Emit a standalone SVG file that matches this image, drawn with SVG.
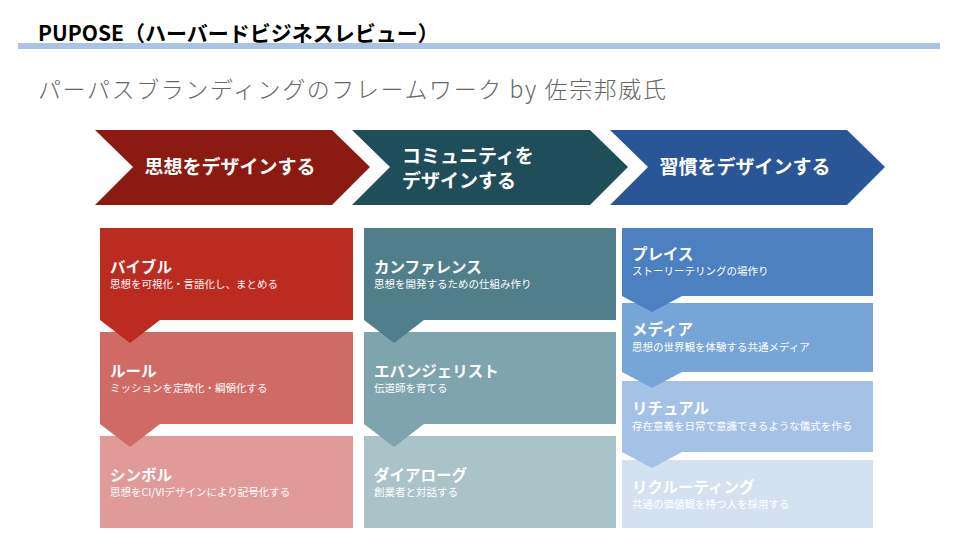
<svg xmlns="http://www.w3.org/2000/svg" width="976" height="552" viewBox="0 0 976 552">
<style>
text{font-family:"Noto Sans CJK JP","Noto Sans",sans-serif}
.h{font-size:15.5px;font-weight:bold;fill:#fff}
.s{font-size:10.5px;fill:#fff}
.c{font-size:19px;font-weight:bold;fill:#fff}
</style>
<rect width="976" height="552" fill="#fff"/>
<text x="38" y="41" font-size="21" font-weight="bold" fill="#000">PUPOSE（ハーバードビジネスレビュー）</text>
<rect x="18" y="43" width="922" height="6" fill="#a9c4e6"/>
<text x="38" y="98" font-size="23" font-weight="300" letter-spacing="1.6" fill="#666">パーパスブランディングのフレームワーク by 佐宗邦威氏</text>
<g id="chevrons">
<g id="c1"><polygon points="95,130 332,130 370,167 332,205 95,205 133,167" fill="#8b1a12"/><text class="c" x="230" y="174" text-anchor="middle">思想をデザインする</text></g>
<g id="c2"><polygon points="352,130 590,130 628,167 590,205 352,205 390,167" fill="#1f4e5a"/><text class="c" x="402" y="163" font-size="18">コミュニティを</text><text class="c" x="402" y="188" font-size="18">デザインする</text></g>
<g id="c3"><polygon points="610,130 847,130 885,167 847,205 610,205 648,167" fill="#2a5597"/><text class="c" x="745" y="174" text-anchor="middle">習慣をデザインする</text></g>
</g>
<g id="col1">
<g id="n1"><rect x="100" y="228" width="253" height="92" fill="#bc2b1f"/><text class="h" x="110" y="273">バイブル</text><text class="s" x="110" y="288">思想を可視化・言語化し、まとめる</text></g>
<g id="n2"><rect x="100" y="332" width="253" height="92" fill="#d06a65"/><text class="h" x="110" y="377">ルール</text><text class="s" x="110" y="392">ミッションを定款化・綱領化する</text></g>
<g id="n3"><rect x="100" y="436" width="253" height="92" fill="#e09a98"/><text class="h" x="110" y="481">シンボル</text><text class="s" x="110" y="496">思想をCI/VIデザインにより記号化する</text></g>
</g>
<g id="col2">
<g id="n4"><rect x="364" y="228" width="252" height="92" fill="#507f8b"/><text class="h" x="374" y="273">カンファレンス</text><text class="s" x="374" y="288">思想を開発するための仕組み作り</text></g>
<g id="n5"><rect x="364" y="332" width="252" height="92" fill="#7ea4ae"/><text class="h" x="374" y="377">エバンジェリスト</text><text class="s" x="374" y="392">伝道師を育てる</text></g>
<g id="n6"><rect x="364" y="436" width="252" height="92" fill="#a9c3c9"/><text class="h" x="374" y="481">ダイアローグ</text><text class="s" x="374" y="496">創業者と対話する</text></g>
</g>
<g id="col3">
<g id="n7"><rect x="622" y="228" width="251" height="68" fill="#4d80c0"/><text class="h" x="632" y="260">プレイス</text><text class="s" x="632" y="275">ストーリーテリングの場作り</text></g>
<g id="n8"><rect x="622" y="303" width="251" height="69" fill="#78a5d8"/><text class="h" x="632" y="335">メディア</text><text class="s" x="632" y="351">思想の世界観を体験する共通メディア</text></g>
<g id="n9"><rect x="622" y="381" width="251" height="71" fill="#a4c2e6"/><text class="h" x="632" y="414">リチュアル</text><text class="s" x="632" y="430">存在意義を日常で意識できるような儀式を作る</text></g>
<g id="n10"><rect x="622" y="460" width="251" height="68" fill="#d3e1f1"/><text class="h" x="632" y="493">リクルーティング</text><text class="s" x="632" y="508">共通の価値観を持つ人を採用する</text></g>
</g>
<g id="connectors">
<polygon points="100,320 160,320 130,343" fill="#bc2b1f"/>
<polygon points="100,424 160,424 130,447" fill="#d06a65"/>
<polygon points="364,320 424,320 394,343" fill="#507f8b"/>
<polygon points="364,424 424,424 394,447" fill="#7ea4ae"/>
<polygon points="622,296 682,296 652,312" fill="#4d80c0"/>
<polygon points="622,372 682,372 652,388" fill="#78a5d8"/>
<polygon points="622,452 682,452 652,468" fill="#a4c2e6"/>
</g>
</svg>
